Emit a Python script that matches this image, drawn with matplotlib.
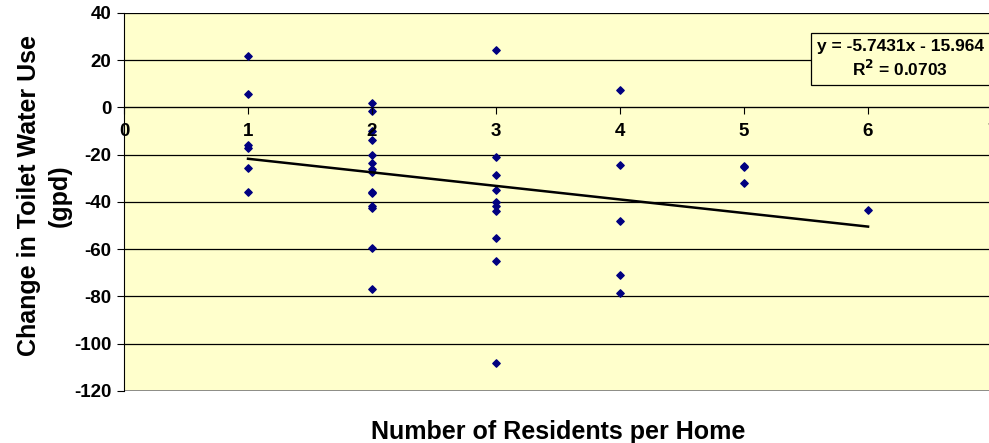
import matplotlib
matplotlib.use("Agg")
import matplotlib.pyplot as plt
import numpy as np

plt.rcParams["font.family"] = ["Liberation Sans", "DejaVu Sans"]
plt.rcParams["font.weight"] = "bold"
plt.rcParams["axes.unicode_minus"] = False

# residents per home and change in toilet water use (gpd)
residents = [1, 1, 1, 1, 1, 1,
             2, 2, 2, 2, 2, 2, 2, 2, 2, 2, 2, 2, 2, 2,
             3, 3, 3, 3, 3, 3, 3, 3, 3, 3,
             4, 4, 4, 4, 4,
             5, 5, 5,
             6]
change = [22.0, 5.7, -15.8, -17.2, -25.8, -35.7,
          2.1, -1.7, -10.0, -13.7, -20.3, -23.3, -26.1, -27.1, -35.6, -36.3, -41.9, -42.6, -59.6, -76.9,
          24.4, -20.9, -28.4, -35.0, -40.2, -41.7, -43.8, -55.2, -65.1, -108.0,
          7.6, -24.4, -48.0, -71.0, -78.4,
          -24.7, -25.4, -32.0,
          -43.2]

slope = -5.7431
intercept = -15.964
r2 = 0.0703

fig = plt.figure(figsize=(9.89, 4.43), dpi=100)
ax = fig.add_axes([0.1254, 0.1174, 0.8777, 0.8533])
ax.set_facecolor("#FFFFCC")

ax.set_xlim(0, 7)
ax.set_ylim(-120, 40)
ax.set_yticks(np.arange(-120, 41, 20))
ax.set_xticks(range(0, 8))
ax.grid(axis="y", color="black", linewidth=0.9)
ax.set_axisbelow(True)

ax.scatter(residents, change, marker="D", s=14, color="#000080", zorder=3)

xs = np.array([min(residents), max(residents)])
ax.plot(xs, slope * xs + intercept, color="black", linewidth=1.8, zorder=4)

ax.spines["bottom"].set_position(("data", 0))
ax.spines["right"].set_visible(False)
ax.spines["top"].set_visible(False)
ax.spines["left"].set_color("black")
ax.spines["bottom"].set_color("black")
ax.axhline(-120, color="#808080", linewidth=1.2)

ax.tick_params(axis="y", direction="out", length=5, labelsize=13.5, pad=4)
ax.tick_params(axis="x", direction="out", length=5, labelsize=13.5, pad=6)
for lbl in ax.get_xticklabels() + ax.get_yticklabels():
    lbl.set_fontweight("bold")
# x tick labels sit on top of the points, like the original
ax.xaxis.set_zorder(5)

fig.text(558 / 989, 1 - 432 / 443, "Number of Residents per Home", fontsize=18,
         fontweight="bold", ha="center", va="center")
fig.text(44 / 989, 1 - 196 / 443, "Change in Toilet Water Use\n(gpd)", fontsize=18,
         fontweight="bold", ha="center", va="center", rotation=90,
         multialignment="center", linespacing=1.35)

eq = "y = -5.7431x - 15.964\nR$^2$ = 0.0703"
ax.text(0.798, 0.878, eq, transform=ax.transAxes, fontsize=12.5, fontweight="bold",
        ha="left", va="center", multialignment="center", linespacing=1.25,
        bbox=dict(boxstyle="square,pad=0.35", facecolor="#FFFFCC", edgecolor="black",
                  linewidth=0.9), zorder=6)

fig.savefig("out.png", dpi=100)
